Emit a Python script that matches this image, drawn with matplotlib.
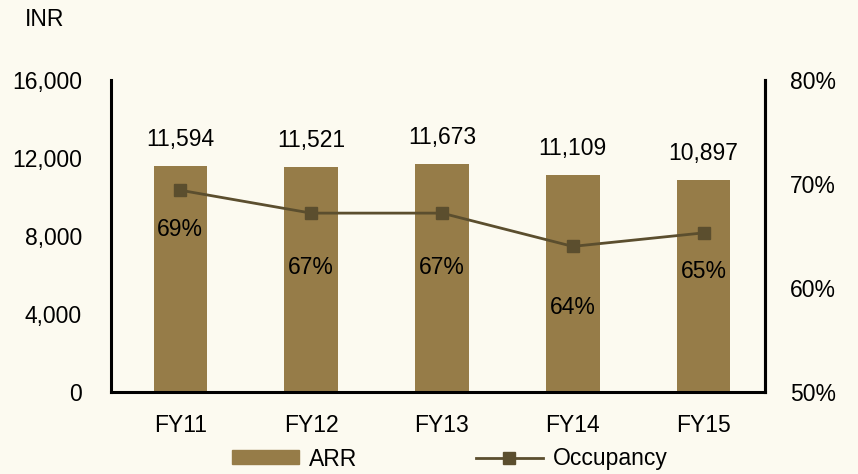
import matplotlib
matplotlib.use("Agg")
import matplotlib.pyplot as plt
from matplotlib.ticker import FuncFormatter
from matplotlib.patches import Patch
from matplotlib.lines import Line2D

plt.rcParams['font.family'] = ['Liberation Sans', 'DejaVu Sans']

categories = ["FY11", "FY12", "FY13", "FY14", "FY15"]
arr = [11594, 11521, 11673, 11109, 10897]
occupancy = [69.4, 67.2, 67.2, 64.0, 65.3]
occ_labels = ["69%", "67%", "67%", "64%", "65%"]

bar_color = "#967C48"
line_color = "#5B4E2E"
bg = "#FCFAF0"
fs = 16.5

fig = plt.figure(figsize=(8.58, 4.74), dpi=100, facecolor=bg)
ax = fig.add_axes([111/858, 1-392/474, (765-111)/858, (392-80)/474])
ax.set_facecolor(bg)
x = list(range(len(categories)))
ax.bar(x, arr, width=0.41, color=bar_color, zorder=2)
ax.set_ylim(0, 16000)
ax.set_xlim(-0.53, 4.47)
ax.set_yticks([0, 4000, 8000, 12000, 16000])
ax.yaxis.set_major_formatter(FuncFormatter(lambda v, p: f"{int(v):,}"))
ax.set_xticks(x)
ax.set_xticklabels(categories)
ax.tick_params(length=0, labelsize=fs)
ax.tick_params(axis='x', pad=16)
ax.tick_params(axis='y', pad=21)
ax.spines["top"].set_visible(False)
for s in ["left", "bottom", "right"]:
    ax.spines[s].set_linewidth(2.2)
    ax.spines[s].set_color("black")

for xi, v in zip(x, arr):
    ax.annotate(f"{v:,}", (xi, v), xytext=(0, 19), textcoords="offset points",
                ha="center", va="center", fontsize=fs)

ax2 = ax.twinx()
ax2.set_ylim(50, 80)
ax2.set_yticks([50, 60, 70, 80])
ax2.yaxis.set_major_formatter(FuncFormatter(lambda v, p: f"{int(v)}%"))
ax2.tick_params(length=0, labelsize=fs, pad=18)
for s in ["top", "left", "bottom"]:
    ax2.spines[s].set_visible(False)
ax2.spines["right"].set_linewidth(2.2)
ax2.plot(x, occupancy, color=line_color, linewidth=2, marker="s", markersize=9,
         zorder=3)
offsets = [-28, -39, -39, -44, -28]
for xi, v, lab, off in zip(x, occupancy, occ_labels, offsets):
    ax2.annotate(lab, (xi, v), xytext=(0, off), textcoords="offset points",
                 ha="center", va="center", fontsize=fs)

fig.text(25/858, 1-20/474, "INR", fontsize=fs, ha="left", va="center")

handles = [Patch(color=bar_color), Line2D([0], [0], color=line_color, lw=2,
                                           marker="s", markersize=9)]
fig.legend(handles, ["ARR", "Occupancy"], loc="center", ncol=2,
           bbox_to_anchor=(450/858, 1-459/474), frameon=False, fontsize=fs,
           handlelength=2.9, handleheight=0.55, columnspacing=5.2,
           handletextpad=0.45)

fig.savefig("out.png", dpi=100, facecolor=bg)
